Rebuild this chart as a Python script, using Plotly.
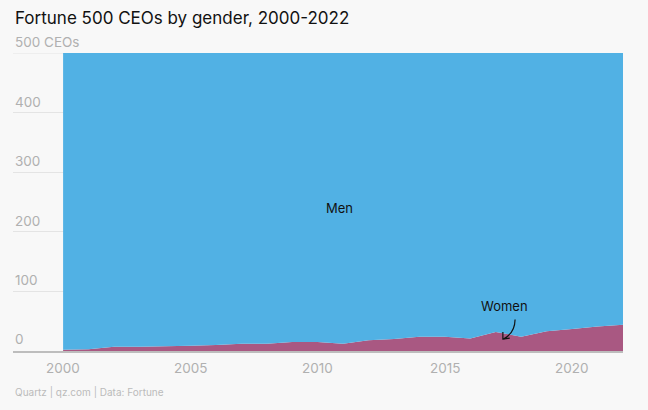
import plotly.graph_objects as go

years = list(range(2000, 2023))
women = [2, 3, 7, 7, 8, 9, 10, 12, 12, 15, 15, 12, 18, 20, 24, 24, 21, 32, 24, 33, 37, 41, 44]
total = 500
men = [total - w for w in women]

y_tickvals = [0, 100, 200, 300, 400, 500]
y_ticktext = ["0", "100", "200", "300", "400", "500 CEOs"]
x_tickvals = [2000, 2005, 2010, 2015, 2020]

BG = "#f8f8f8"
BLUE = "#51b1e4"
PINK = "#a95882"
GREY = "#b0b0b0"
FONT = "Inter, Liberation Sans, sans-serif"

PLOT_H = 410 - 53 - 59

fig = go.Figure()
fig.add_trace(go.Scatter(x=years, y=women, stackgroup="one", mode="none",
                         fillcolor=PINK, name="Women", hoverinfo="skip"))
fig.add_trace(go.Scatter(x=years, y=men, stackgroup="one", mode="none",
                         fillcolor=BLUE, name="Men", hoverinfo="skip"))

fig.add_annotation(x=2010.87, y=240, text="Men", showarrow=False,
                   font=dict(family=FONT, size=13, color="#111"))
fig.add_annotation(x=2017.36, y=76, text="Women", showarrow=False,
                   font=dict(family=FONT, size=13, color="#111"))
# curved arrow
fig.add_shape(type="path", xref="x", yref="y",
              path="M 2017.76 53 Q 2017.75 30 2017.3 20",
              line=dict(color="#111", width=1.2))
fig.add_shape(type="path", xref="x", yref="y",
              path="M 2017.28 32 L 2017.28 20 L 2017.55 21.5",
              line=dict(color="#111", width=1.2))

# y tick labels (above gridlines, left aligned)
for v, t in zip(y_tickvals, y_ticktext):
    fig.add_annotation(x=0, xref="paper", xanchor="left", y=v, yref="y",
                       yanchor="bottom", yshift=1 if v > 0 else 2, text=t, showarrow=False,
                       font=dict(family=FONT, size=13.5, color=GREY))
# x tick labels
for v in x_tickvals:
    fig.add_annotation(x=v, xref="x", xanchor="center", y=0, yref="paper",
                       yanchor="top", yshift=-7, text=str(v), showarrow=False,
                       font=dict(family=FONT, size=13.5, color=GREY))

fig.add_annotation(x=0, xref="paper", xanchor="left", y=(351 - 392) / PLOT_H, yref="paper",
                   yanchor="middle", text="Quartz | qz.com | Data: Fortune", showarrow=False,
                   font=dict(family=FONT, size=10, color="#bbbbbb"))
fig.add_annotation(x=0, xref="paper", xanchor="left", y=(351 - 18) / PLOT_H, yref="paper",
                   yanchor="middle", text="Fortune 500 CEOs by gender, 2000-2022", showarrow=False,
                   font=dict(family=FONT, size=17, color="#111"))

fig.update_layout(
    width=648, height=410,
    paper_bgcolor=BG, plot_bgcolor=BG,
    margin=dict(l=13, r=25, t=53, b=59),
    showlegend=False,
    font=dict(family=FONT),
    xaxis=dict(range=[2000 - 50 / 25.4, 2022], tickvals=x_tickvals, showgrid=False,
               zeroline=False, showline=True, linecolor="#bdbdbd", linewidth=1.5,
               showticklabels=False, ticks="", fixedrange=True),
    yaxis=dict(range=[0, 500], tickvals=y_tickvals[:-1], showticklabels=False,
               showgrid=True, gridcolor="#e4e4e4", gridwidth=1, zeroline=False,
               ticks="", fixedrange=True),
)
fig.add_shape(type="line", xref="paper", yref="y", x0=0, x1=1, y0=500, y1=500,
              line=dict(color="#e4e4e4", width=1), layer="below")

fig.write_html("out.html")
